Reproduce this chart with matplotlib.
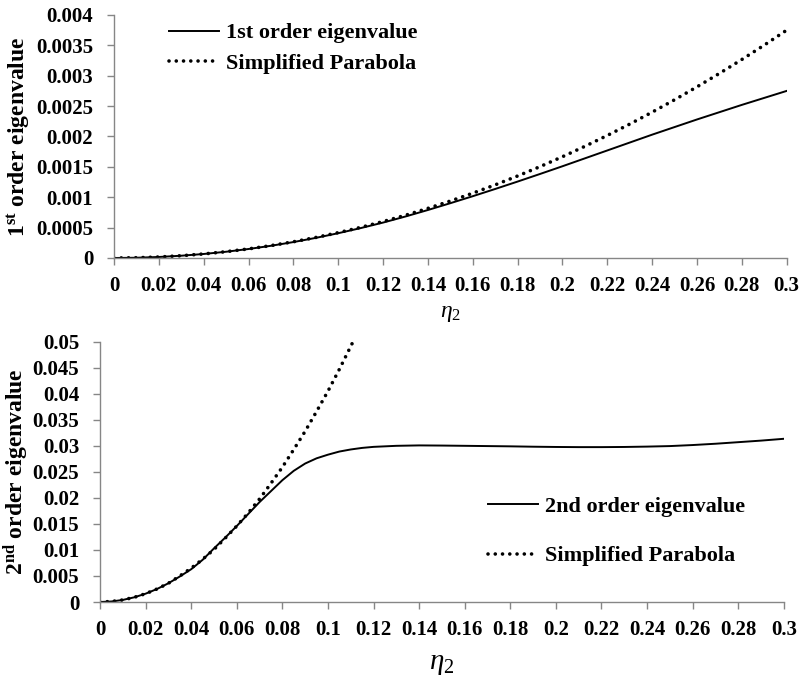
import matplotlib.pyplot as plt
import numpy as np
from matplotlib.ticker import FuncFormatter

plt.rcParams['font.family'] = ['Liberation Serif', 'DejaVu Serif']
plt.rcParams['font.weight'] = 'bold'
plt.rcParams['mathtext.fontset'] = 'custom'
plt.rcParams['mathtext.rm'] = 'Liberation Serif:weight=normal'
plt.rcParams['mathtext.it'] = 'Liberation Serif:style=italic:weight=normal'
plt.rcParams['mathtext.bf'] = 'Liberation Serif:weight=bold'

# first order eigenvalue (top panel)
eta_1 = [0.00, 0.01, 0.02, 0.03, 0.04, 0.05, 0.06, 0.07, 0.08, 0.09, 0.10,
         0.11, 0.12, 0.13, 0.14, 0.15, 0.16, 0.17, 0.18, 0.19, 0.20,
         0.21, 0.22, 0.23, 0.24, 0.25, 0.26, 0.27, 0.28, 0.29, 0.30]
eig_1 = [0.0, 0.0000042, 0.0000167, 0.0000375, 0.000066, 0.000103, 0.000148,
         0.000201, 0.000262, 0.000331, 0.000408, 0.000492, 0.000583, 0.000683,
         0.000790, 0.000902, 0.001017, 0.001136, 0.001258, 0.001383, 0.001510,
         0.001640, 0.001770, 0.001900, 0.002030, 0.002155, 0.002280, 0.002400,
         0.002520, 0.002635, 0.002750]
para_1 = [0.0, 0.0000042, 0.0000167, 0.0000375, 0.0000667, 0.000104, 0.000150,
          0.000204, 0.000267, 0.000338, 0.000417, 0.000504, 0.000600, 0.000704,
          0.000817, 0.000938, 0.001067, 0.001204, 0.001350, 0.001504, 0.001667,
          0.001838, 0.002017, 0.002204, 0.002400, 0.002604, 0.002817, 0.003038,
          0.003267, 0.003504, 0.003750]

# second order eigenvalue (bottom panel)
eta_2 = [0.000, 0.005, 0.010, 0.015, 0.020, 0.025, 0.030, 0.035, 0.040, 0.045,
         0.050, 0.055, 0.060, 0.065, 0.070, 0.075, 0.080, 0.085, 0.090, 0.095,
         0.100, 0.105, 0.110, 0.115, 0.120, 0.125, 0.130, 0.140, 0.150, 0.160,
         0.170, 0.180, 0.190, 0.200, 0.210, 0.220, 0.230, 0.240, 0.250, 0.260,
         0.270, 0.280, 0.290, 0.300]
eig_2 = [0.0, 0.0001, 0.0004, 0.0009, 0.0016, 0.0025, 0.0036, 0.0049, 0.0063,
         0.0081, 0.0103, 0.0124, 0.0146, 0.0169, 0.0192, 0.0213, 0.0234, 0.0252,
         0.0266, 0.0276, 0.0283, 0.0289, 0.0293, 0.0296, 0.0298, 0.0299, 0.0300,
         0.03008, 0.03005, 0.0300, 0.02995, 0.0299, 0.02983, 0.02978, 0.02975,
         0.02975, 0.02978, 0.02985, 0.02995, 0.03015, 0.0304, 0.0307, 0.0310,
         0.03135]
eta_p2 = [0.000, 0.005, 0.010, 0.015, 0.020, 0.025, 0.030, 0.035, 0.040, 0.045,
          0.050, 0.055, 0.060, 0.065, 0.070, 0.075, 0.080, 0.085, 0.090, 0.095,
          0.100, 0.105, 0.111]
para_2 = [0.0, 0.0001, 0.0004, 0.0009, 0.0016, 0.0025, 0.0036, 0.0050, 0.0065,
          0.0082, 0.0101, 0.0123, 0.0146, 0.0171, 0.0198, 0.0228, 0.0259, 0.0293,
          0.0328, 0.0366, 0.0405, 0.0447, 0.0500]

axis_grey = '#868686'
dots = (0, (0.01, 2.0))
fmt = FuncFormatter(lambda v, p: '%g' % round(v, 6))

fig = plt.figure(figsize=(7.99, 6.8), dpi=100)
ax1 = fig.add_axes([0.1427, 0.6206, 0.8419, 0.3574])
ax2 = fig.add_axes([0.1252, 0.1147, 0.8558, 0.3828])

ax1.plot(eta_1, eig_1, color='black', lw=1.4, label='1st order eigenvalue')
ax1.plot(eta_1, para_1, color='black', lw=2.6, linestyle=dots,
         dash_capstyle='round', label='Simplified Parabola')
ax2.plot(eta_2, eig_2, color='black', lw=1.4, label='2nd order eigenvalue')
ax2.plot(eta_p2, para_2, color='black', lw=2.6, linestyle=dots,
         dash_capstyle='round', label='Simplified Parabola')

ax1.set_xlim(0, 0.3)
ax1.set_ylim(0, 0.004)
ax1.set_xticks(np.round(np.arange(0, 0.3001, 0.02), 2))
ax1.set_yticks(np.round(np.arange(0, 0.00401, 0.0005), 4))
ax2.set_xlim(0, 0.3)
ax2.set_ylim(0, 0.05)
ax2.set_xticks(np.round(np.arange(0, 0.3001, 0.02), 2))
ax2.set_yticks(np.round(np.arange(0, 0.0501, 0.005), 3))

for ax in (ax1, ax2):
    ax.xaxis.set_major_formatter(fmt)
    ax.yaxis.set_major_formatter(fmt)
    ax.spines['top'].set_visible(False)
    ax.spines['right'].set_visible(False)
    for s in ('left', 'bottom'):
        ax.spines[s].set_color(axis_grey)
        ax.spines[s].set_linewidth(1.0)
    ax.tick_params(axis='both', color=axis_grey, length=5, width=1.0,
                   labelsize=15, direction='out')
    ax.tick_params(axis='x', pad=8)
    ax.tick_params(axis='y', pad=10)
    for lab in ax.get_xticklabels() + ax.get_yticklabels():
        lab.set_fontweight('bold')

ax1.set_xlabel(r'$\eta_2$', fontsize=17, fontweight='normal', labelpad=5)
ax2.set_xlabel(r'$\eta_2$', fontsize=21, fontweight='normal', labelpad=8)
ax1.set_ylabel(r'1$^{\mathbf{st}}$ order eigenvalue', fontsize=17,
               fontweight='bold')
ax2.set_ylabel(r'2$^{\mathbf{nd}}$ order eigenvalue', fontsize=17,
               fontweight='bold')
ax1.yaxis.set_label_coords(-0.1216, 0.5)
ax2.yaxis.set_label_coords(-0.1013, 0.5)

ax1.legend(loc='upper left', bbox_to_anchor=(0.068, 1.004), frameon=False,
           fontsize=16, handlelength=2.25, handletextpad=0.32, labelspacing=0.44,
           borderaxespad=0)
ax2.legend(loc='upper left', bbox_to_anchor=(0.554, 0.44), frameon=False,
           fontsize=16, handlelength=2.25, handletextpad=0.32, labelspacing=1.3,
           borderaxespad=0)

fig.savefig('out.png', dpi=100)
